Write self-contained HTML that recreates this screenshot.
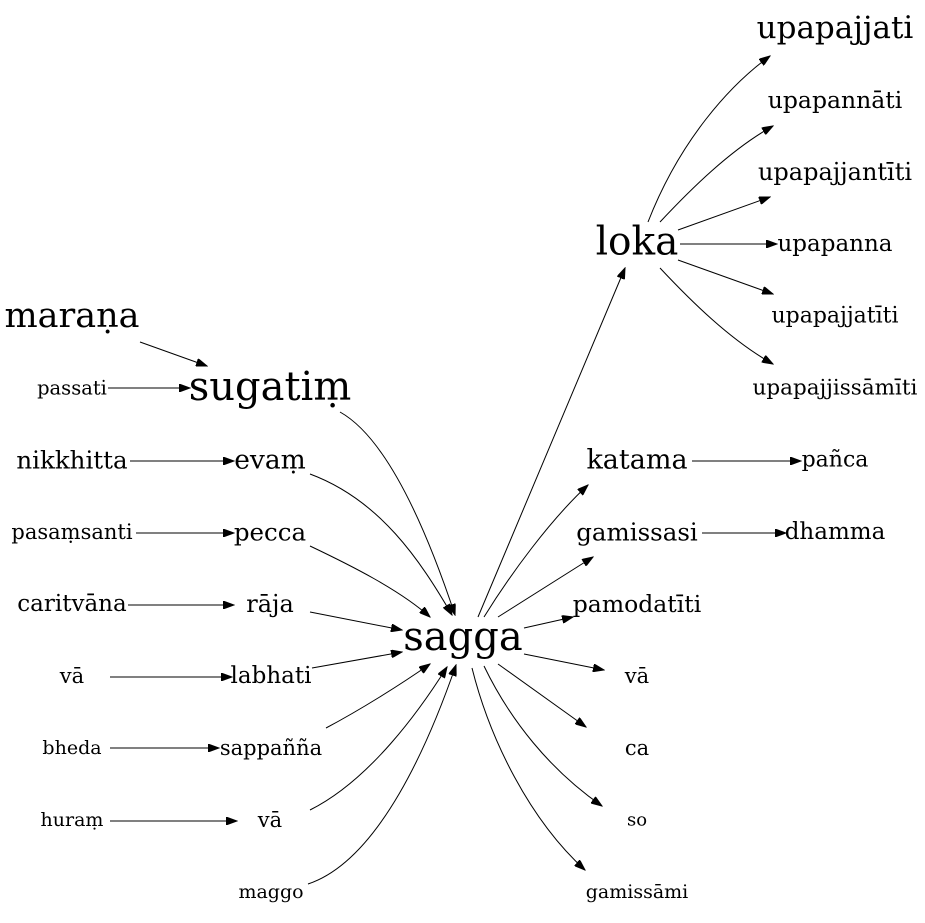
<!DOCTYPE html>
<html><head><meta charset="utf-8"><style>
html,body{margin:0;padding:0;background:#fff;}
svg{display:block;}
text{font-family:"DejaVu Serif","Liberation Serif",serif;fill:#000;text-anchor:middle;dominant-baseline:central;}
path{fill:none;stroke:#000;stroke-width:1;}
</style></head><body>
<svg width="925" height="923" viewBox="0 0 925 923" xmlns="http://www.w3.org/2000/svg">
<defs><marker id="ah" markerWidth="12" markerHeight="8" refX="11" refY="4" orient="auto" markerUnits="userSpaceOnUse"><path d="M0,0 L11,4 L0,8 Z" style="fill:#000;stroke:#000"/></marker></defs>
<g>
<text x="835" y="28" font-size="31">upapajjati</text>
<text x="835" y="100" font-size="23.5">upapannāti</text>
<text x="835" y="172" font-size="24">upapajjantīti</text>
<text x="835" y="244" font-size="23">upapanna</text>
<text x="835" y="316" font-size="22">upapajjatīti</text>
<text x="835" y="388" font-size="21.5">upapajjissāmīti</text>
<text x="637" y="242" font-size="39">loka</text>
<text x="72" y="316" font-size="35">maraṇa</text>
<text x="270" y="387" font-size="40">sugatiṃ</text>
<text x="72" y="388" font-size="19.5">passati</text>
<text x="72" y="460" font-size="24.5">nikkhitta</text>
<text x="270" y="460" font-size="26.5">evaṃ</text>
<text x="72" y="532" font-size="21">pasaṃsanti</text>
<text x="270" y="532" font-size="24.5">pecca</text>
<text x="72" y="604" font-size="23">caritvāna</text>
<text x="270" y="604" font-size="24">rāja</text>
<text x="72" y="676" font-size="21">vā</text>
<text x="271" y="676" font-size="23">labhati</text>
<text x="72" y="748" font-size="19">bheda</text>
<text x="271" y="748" font-size="21">sappañña</text>
<text x="72" y="820" font-size="19">huraṃ</text>
<text x="270" y="820" font-size="21">vā</text>
<text x="271" y="892" font-size="19">maggo</text>
<text x="463" y="637" font-size="40">sagga</text>
<text x="637" y="460" font-size="27">katama</text>
<text x="835" y="460" font-size="22">pañca</text>
<text x="637" y="532" font-size="24.5">gamissasi</text>
<text x="835" y="532" font-size="23">dhamma</text>
<text x="637" y="604" font-size="23.5">pamodatīti</text>
<text x="637" y="676" font-size="21">vā</text>
<text x="637" y="748" font-size="21">ca</text>
<text x="637" y="820" font-size="18">so</text>
<text x="637" y="892" font-size="19">gamissāmi</text>
</g>
<g>
<path marker-end="url(#ah)" d="M648,222 C680,140 730,85 770,56"/>
<path marker-end="url(#ah)" d="M660,222 C690,190 730,150 773,126"/>
<path marker-end="url(#ah)" d="M678,230 L770,197"/>
<path marker-end="url(#ah)" d="M680,244 L777,244"/>
<path marker-end="url(#ah)" d="M678,260 L773,294"/>
<path marker-end="url(#ah)" d="M660,268 C690,300 730,340 773,364"/>
<path marker-end="url(#ah)" d="M140,342 L207,366"/>
<path marker-end="url(#ah)" d="M108,388 L190,388"/>
<path marker-end="url(#ah)" d="M340,412 C390,440 430,540 455,615"/>
<path marker-end="url(#ah)" d="M130,461 L234,461"/>
<path marker-end="url(#ah)" d="M310,474 C380,500 420,560 452,615"/>
<path marker-end="url(#ah)" d="M136,533 L234,533"/>
<path marker-end="url(#ah)" d="M310,546 C350,565 400,590 430,617"/>
<path marker-end="url(#ah)" d="M128,605 L234,605"/>
<path marker-end="url(#ah)" d="M310,612 L402,630"/>
<path marker-end="url(#ah)" d="M110,677 L232,677"/>
<path marker-end="url(#ah)" d="M312,668 L402,652"/>
<path marker-end="url(#ah)" d="M110,748 L219,748"/>
<path marker-end="url(#ah)" d="M326,728 C360,710 400,685 430,664"/>
<path marker-end="url(#ah)" d="M110,821 L237,821"/>
<path marker-end="url(#ah)" d="M310,810 C370,780 420,710 447,667"/>
<path marker-end="url(#ah)" d="M308,884 C380,860 430,740 456,665"/>
<path marker-end="url(#ah)" d="M478,617 L625,268"/>
<path marker-end="url(#ah)" d="M484,617 C510,575 550,520 588,485"/>
<path marker-end="url(#ah)" d="M498,617 L593,557"/>
<path marker-end="url(#ah)" d="M524,628 L573,617"/>
<path marker-end="url(#ah)" d="M524,654 L604,670"/>
<path marker-end="url(#ah)" d="M498,664 L586,727"/>
<path marker-end="url(#ah)" d="M484,666 C510,720 550,770 602,806"/>
<path marker-end="url(#ah)" d="M472,668 C490,740 530,820 585,870"/>
<path marker-end="url(#ah)" d="M692,461 L801,461"/>
<path marker-end="url(#ah)" d="M702,533 L786,533"/>
</g>
</svg>
</body></html>
